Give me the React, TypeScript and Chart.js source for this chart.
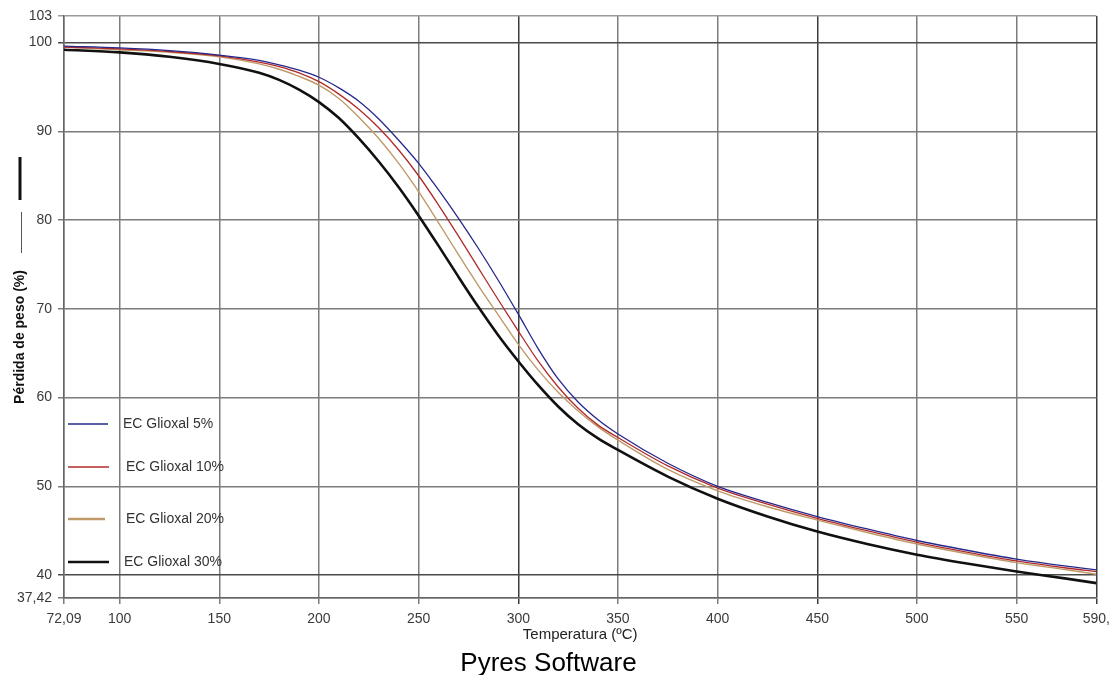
import { useEffect, useRef } from "react";
import { Chart, registerables } from "chart.js";

Chart.register(...registerables);

const FONT = '"Liberation Sans", Arial, sans-serif';

// Temperature grid (ºC) shared by every thermogram
const TEMPERATURES = [
  72.09, 100, 125, 150, 170, 180, 190, 200, 210, 220, 230, 240, 250, 260, 270, 280, 290,
  300, 310, 320, 330, 340, 350, 375, 400, 425, 450, 475, 500, 525, 550, 575, 590,
];

// Remaining mass (%) for each glyoxal content
const MASS_5 = [
  99.6, 99.4, 99.1, 98.6, 98.0, 97.5, 96.9, 96.1, 94.9, 93.4, 91.4, 89.0, 86.4, 83.4, 80.2, 76.8, 73.2,
  69.4, 65.5, 62.1, 59.5, 57.5, 55.9, 52.6, 50.0, 48.2, 46.6, 45.2, 43.9, 42.8, 41.8, 41.0, 40.6,
];
const MASS_10 = [
  99.5, 99.3, 99.0, 98.5, 97.8, 97.3, 96.6, 95.6, 94.2, 92.5, 90.4, 87.9, 85.0, 81.7, 78.2, 74.6, 71.0,
  67.5, 64.1, 61.2, 58.8, 56.9, 55.5, 52.3, 49.8, 48.0, 46.4, 45.0, 43.7, 42.6, 41.6, 40.8, 40.4,
];
const MASS_20 = [
  99.5, 99.2, 98.9, 98.4, 97.6, 97.0, 96.2, 95.2, 93.7, 91.6, 89.2, 86.4, 83.2, 79.7, 76.1, 72.6, 69.3,
  66.0, 63.1, 60.6, 58.5, 56.7, 55.2, 51.9, 49.5, 47.7, 46.2, 44.8, 43.5, 42.4, 41.4, 40.6, 40.1,
];
const MASS_30 = [
  99.2, 98.9, 98.4, 97.6, 96.6, 95.8, 94.7, 93.3, 91.5, 89.2, 86.6, 83.7, 80.5, 77.1, 73.6, 70.2, 67.0,
  64.1, 61.4, 59.0, 57.0, 55.4, 54.1, 51.1, 48.6, 46.6, 44.9, 43.5, 42.3, 41.3, 40.4, 39.6, 39.1,
];

const SERIES_LABELS = ["EC Glioxal 5%", "EC Glioxal 10%", "EC Glioxal 20%", "EC Glioxal 30%"];
const SERIES_COLORS = ["#26288c", "#b02a2a", "#bf9a68", "#111111"];
const SERIES_WIDTHS = [1.3, 1.3, 1.4, 2.6];

const X_TICKS = [72.09, 100, 150, 200, 250, 300, 350, 400, 450, 500, 550, 590];
const X_TICK_LABELS = ["72,09", "100", "150", "200", "250", "300", "350", "400", "450", "500", "550", "590,"];
const Y_TICKS = [37.42, 40, 50, 60, 70, 80, 90, 100, 103];
const Y_TICK_LABELS = ["37,42", "40", "50", "60", "70", "80", "90", "100", "103"];

// Gridlines drawn a shade darker
const DARK_X_LINES = [300, 450, 590];
const DARK_Y_LINES = [40, 100];

// In-plot legend layout (offsets from the plot's top-left corner)
const LEGEND_ROW_OFFSETS = [408, 451, 503, 546];
const LEGEND_TEXT_OFFSETS = [59, 62, 62, 60];
const LEGEND_LINE_WIDTHS = [1.5, 1.5, 2.5, 2.6];
const LEGEND_LINE_ENDS = [44, 45, 41, 45];

const insetLegend = {
  id: "insetLegend",
  afterDatasetsDraw(chart: any) {
    const { ctx, chartArea } = chart;
    chart.data.datasets.forEach((ds: any, i: number) => {
      const y = chartArea.top + LEGEND_ROW_OFFSETS[i];
      ctx.save();
      ctx.strokeStyle = ds.borderColor;
      ctx.lineWidth = LEGEND_LINE_WIDTHS[i];
      ctx.beginPath();
      ctx.moveTo(chartArea.left + 4, y);
      ctx.lineTo(chartArea.left + LEGEND_LINE_ENDS[i], y);
      ctx.stroke();
      ctx.fillStyle = "#333";
      ctx.font = `14px ${FONT}`;
      ctx.textAlign = "left";
      ctx.textBaseline = "middle";
      ctx.fillText(ds.label, chartArea.left + LEGEND_TEXT_OFFSETS[i], y);
      ctx.restore();
    });
  },
};

const axisCaption = {
  id: "axisCaption",
  afterDraw(chart: any) {
    const { ctx, chartArea } = chart;
    const cx = 20;
    const cy = (chartArea.top + chartArea.bottom) / 2 + 30;
    ctx.save();
    ctx.translate(cx, cy);
    ctx.rotate(-Math.PI / 2);
    ctx.font = `bold 14px ${FONT}`;
    ctx.fillStyle = "#111";
    ctx.textAlign = "center";
    ctx.textBaseline = "middle";
    ctx.fillText("Pérdida de peso (%)", 0, 0);
    ctx.restore();
    // key marks above the caption
    ctx.save();
    ctx.fillStyle = "#111";
    ctx.fillRect(cx - 1.5, cy - 180, 3, 43);
    ctx.strokeStyle = "#555";
    ctx.lineWidth = 1;
    ctx.beginPath();
    ctx.moveTo(cx + 1.5, cy - 125);
    ctx.lineTo(cx + 1.5, cy - 84);
    ctx.stroke();
    ctx.restore();
  },
};

const series = [MASS_5, MASS_10, MASS_20, MASS_30];

export default function App() {
  const canvasRef = useRef<HTMLCanvasElement | null>(null);

  useEffect(() => {
    if (!canvasRef.current) return;
    const chart = new Chart(canvasRef.current, {
      type: "line",
      data: {
        datasets: series.map((values, i) => ({
          label: SERIES_LABELS[i],
          data: TEMPERATURES.map((t, j) => ({ x: t, y: values[j] })),
          borderColor: SERIES_COLORS[i],
          backgroundColor: SERIES_COLORS[i],
          borderWidth: SERIES_WIDTHS[i],
          pointRadius: 0,
          fill: false,
          cubicInterpolationMode: "monotone" as const,
        })),
      },
      options: {
        responsive: false,
        animation: false,
        layout: { padding: { top: 16, right: 20, bottom: 0, left: 0 } },
        plugins: {
          legend: { display: false },
          tooltip: { enabled: false },
          title: {
            display: true,
            text: "Pyres Software",
            position: "bottom",
            color: "#000",
            font: { family: FONT, size: 26, weight: "normal", lineHeight: 1 },
            padding: { top: 7, bottom: -2 },
          },
        },
        scales: {
          x: {
            type: "linear",
            min: 72.09,
            max: 590,
            afterBuildTicks: (s: any) => {
              s.ticks = X_TICKS.map((v) => ({ value: v }));
            },
            afterFit: (s: any) => {
              s.height = 46;
            },
            ticks: {
              autoSkip: false,
              maxRotation: 0,
              padding: 7,
              color: "#3a3a3a",
              font: { family: FONT, size: 14 },
              callback: (_v: any, i: number) => X_TICK_LABELS[i],
            },
            grid: {
              color: (c: any) => (DARK_X_LINES.includes(c.tick?.value) ? "#3c3c3c" : "#7c7c7c"),
              lineWidth: 1.5,
              tickLength: 6,
            },
            border: { display: true, color: "#666", width: 1.5 },
            title: {
              display: true,
              text: "Temperatura (ºC)",
              color: "#222",
              font: { family: FONT, size: 15, lineHeight: 1 },
              padding: { top: 0, bottom: 1.5 },
            },
          },
          y: {
            type: "linear",
            min: 37.42,
            max: 103,
            afterBuildTicks: (s: any) => {
              s.ticks = Y_TICKS.map((v) => ({ value: v }));
            },
            afterFit: (s: any) => {
              s.width = 64;
            },
            ticks: {
              autoSkip: false,
              padding: 6,
              color: "#3a3a3a",
              font: { family: FONT, size: 14 },
              callback: (_v: any, i: number) => Y_TICK_LABELS[i],
            },
            grid: {
              color: (c: any) =>
                DARK_Y_LINES.includes(c.tick?.value)
                  ? "#4a4a4a"
                  : c.tick?.value === 103
                  ? "#9a9a9a"
                  : "#7c7c7c",
              lineWidth: 1.5,
              tickLength: 6,
            },
            border: { display: true, color: "#666", width: 1.5 },
          },
        },
      },
      plugins: [insetLegend, axisCaption],
    });
    return () => chart.destroy();
  }, []);

  return (
    <div style={{ position: "fixed", left: 0, top: 0, width: 1117, height: 675, background: "#fff" }}>
      <canvas ref={canvasRef} width={1117} height={675} style={{ display: "block" }} />
    </div>
  );
}
